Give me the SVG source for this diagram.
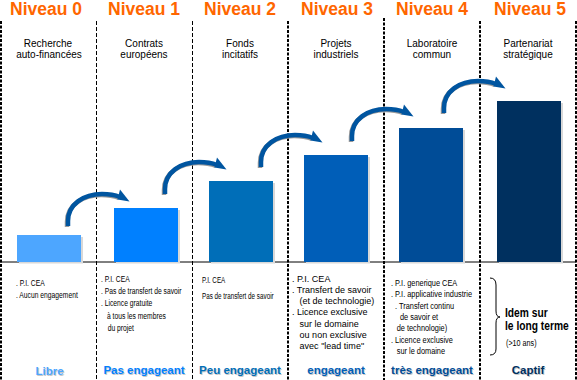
<svg xmlns="http://www.w3.org/2000/svg" xmlns:xlink="http://www.w3.org/1999/xlink" width="577" height="380" viewBox="0 0 577 380">
<style>
.title{font-family:"Liberation Sans",Arial,sans-serif;font-weight:bold;font-size:17.5px;fill:#ff6600;text-anchor:middle}
.sub{font-family:"Liberation Sans",Arial,sans-serif;font-size:10px;fill:#000;text-anchor:middle}
.sm{font-family:"Liberation Sans",Arial,sans-serif;font-size:9px;fill:#000}
.lbl{font-family:"Liberation Sans",Arial,sans-serif;font-weight:bold;font-size:11.5px;text-anchor:middle}
.lsh{fill:#c8c8c8}
.thin{stroke:#000;stroke-width:1;stroke-dasharray:4 2;fill:none}
.dot{stroke:#000;stroke-width:2;stroke-dasharray:3 1.5;fill:none}
.shadow{fill:#d8d8d8}
.arr{fill:none;stroke:#0055a0;stroke-width:4.5}
.arrsh{fill:none;stroke:#9a9a9a;stroke-width:4.5}
.head{fill:#0055a0}
</style>
<defs>
<g id="arrow">
<path class="arrsh" transform="translate(-1,1)" d="M0,0 L0,-5 C0,-22 16,-32 34,-32 C42,-32 47,-31 52,-29"/>
<path class="arr" d="M0,0 L0,-5 C0,-22 16,-32 34,-32 C42,-32 47,-31 52,-29"/>
<polygon class="head" points="52,-36.5 61.5,-24.5 49.5,-26.5"/>
</g>
</defs>
<rect width="577" height="380" fill="#fff"/>
<g id="grid">
<line x1="0" y1="262" x2="576" y2="262" stroke="#000" stroke-width="1"/>
<line class="dot" x1="1" y1="21" x2="1" y2="380"/>
<line class="thin" x1="96.5" y1="21" x2="96.5" y2="380"/>
<line class="thin" x1="192.5" y1="21" x2="192.5" y2="380"/>
<line class="dot" x1="288" y1="21" x2="288" y2="380"/>
<line class="dot" x1="384" y1="18" x2="384" y2="380"/>
<line class="dot" x1="480" y1="21" x2="480" y2="380"/>
<line class="dot" x1="576" y1="21" x2="576" y2="380"/>
</g>
<g id="niveau0">
<text class="title" x="46" y="15">Niveau 0</text>
<text class="sub" x="48" y="46.5">Recherche</text>
<text class="sub" x="49" y="58">auto-financées</text>
<rect class="shadow" x="19" y="237" width="64" height="26.5"/>
<rect x="17" y="235" width="64" height="27" fill="#4da6ff"/>
<g transform="translate(16,0) scale(0.75,1)">
<text class="sm" x="0" y="286">. P.I. CEA</text>
<text class="sm" x="0" y="298">. Aucun engagement</text>
</g>
<text class="lbl lsh" x="50.5" y="376">Libre</text>
<text class="lbl" x="49.5" y="375" fill="#4da6ff">Libre</text>
</g>
<g id="niveau1">
<text class="title" x="144" y="15">Niveau 1</text>
<text class="sub" x="144" y="46.5">Contrats</text>
<text class="sub" x="144" y="58">européens</text>
<rect class="shadow" x="116" y="210" width="64" height="53.5"/>
<rect x="114" y="208" width="64" height="54" fill="#0080ff"/>
<g transform="translate(101,0) scale(0.75,1)">
<text class="sm" x="0" y="282">. P.I. CEA</text>
<text class="sm" x="0" y="294">. Pas de transfert de savoir</text>
<text class="sm" x="0" y="306.5">. Licence gratuite</text>
<text class="sm" x="8" y="319">à tous les membres</text>
<text class="sm" x="9" y="331">du projet</text>
</g>
<text class="lbl lsh" x="145" y="375">Pas engageant</text>
<text class="lbl" x="144" y="374" fill="#0080ff">Pas engageant</text>
</g>
<g id="niveau2">
<text class="title" x="240" y="15">Niveau 2</text>
<text class="sub" x="240" y="46.5">Fonds</text>
<text class="sub" x="240" y="58">incitatifs</text>
<rect class="shadow" x="211" y="183" width="64" height="80.5"/>
<rect x="209" y="181" width="64" height="81" fill="#006eb8"/>
<g transform="translate(202,0) scale(0.7,1)">
<text class="sm" x="0" y="283">P.I. CEA</text>
<text class="sm" x="0" y="299">Pas de transfert de savoir</text>
</g>
<text class="lbl lsh" x="241" y="375">Peu engageant</text>
<text class="lbl" x="240" y="374" fill="#006eb8">Peu engageant</text>
</g>
<g id="niveau3">
<text class="title" x="337" y="15">Niveau 3</text>
<text class="sub" x="336" y="46.5">Projets</text>
<text class="sub" x="336" y="58">industriels</text>
<rect class="shadow" x="306" y="157" width="64" height="106.5"/>
<rect x="304" y="155" width="64" height="107" fill="#005eb8"/>
<g transform="translate(292,0) scale(0.95,1)">
<text class="sm" x="0" y="282" style="font-size:9.5px">. P.I. CEA</text>
<text class="sm" x="0" y="293" style="font-size:9.5px">. Transfert de savoir</text>
<text class="sm" x="8" y="304" style="font-size:9.5px">(et de technologie)</text>
<text class="sm" x="0" y="315.5" style="font-size:9.5px">. Licence exclusive</text>
<text class="sm" x="8" y="327" style="font-size:9.5px">sur le domaine</text>
<text class="sm" x="8" y="338.5" style="font-size:9.5px">ou non exclusive</text>
<text class="sm" x="8" y="349.5" style="font-size:9.5px">avec "lead time"</text>
</g>
<text class="lbl lsh" x="337" y="375">engageant</text>
<text class="lbl" x="336" y="374" fill="#005eb8">engageant</text>
</g>
<g id="niveau4">
<text class="title" x="432" y="15">Niveau 4</text>
<text class="sub" x="432" y="46.5">Laboratoire</text>
<text class="sub" x="432" y="58">commun</text>
<rect class="shadow" x="401" y="130" width="64" height="133.5"/>
<rect x="399" y="128" width="64" height="134" fill="#004c97"/>
<g transform="translate(391,0) scale(0.82,1)">
<text class="sm" x="0" y="286">. P.I. generique CEA</text>
<text class="sm" x="0" y="297.5">. P.I. applicative industrie</text>
<text class="sm" x="5" y="309.5">.  Transfert continu</text>
<text class="sm" x="11" y="320.5">de savoir et</text>
<text class="sm" x="7" y="331.5">de technologie)</text>
<text class="sm" x="0" y="343">. Licence exclusive</text>
<text class="sm" x="7" y="354.5">sur le domaine</text>
</g>
<text class="lbl lsh" x="433" y="375">très engageant</text>
<text class="lbl" x="432" y="374" fill="#004c97">très engageant</text>
</g>
<g id="niveau5">
<text class="title" x="530" y="15">Niveau 5</text>
<text class="sub" x="528" y="46.5">Partenariat</text>
<text class="sub" x="528" y="58">stratégique</text>
<rect class="shadow" x="499" y="103" width="64" height="160.5"/>
<rect x="497" y="101" width="64" height="161" fill="#00305f"/>
<path d="M490,278 Q496,278 496,285 L496,311 Q496,317 500,317 Q496,317 496,323 L496,349 Q496,355 490,355" fill="none" stroke="#000" stroke-width="1"/>
<g transform="translate(505,0) scale(0.82,1)" style="font-family:'Liberation Sans',Arial,sans-serif;font-weight:bold;font-size:12.5px;fill:#000">
<text x="0" y="317">Idem sur</text>
<text x="0" y="330.5">le long terme</text>
</g>
<g transform="translate(506,0) scale(0.8,1)">
<text class="sm" x="0" y="346.5">(&gt;10 ans)</text>
</g>
<text class="lbl lsh" x="529" y="375">Captif</text>
<text class="lbl" x="528" y="374" fill="#00305f">Captif</text>
</g>
<g id="connectors">
<use xlink:href="#arrow" transform="translate(68,226)"/>
<use xlink:href="#arrow" transform="translate(165,194)"/>
<use xlink:href="#arrow" transform="translate(261,167)"/>
<use xlink:href="#arrow" transform="translate(352,141)"/>
<use xlink:href="#arrow" transform="translate(444,113)"/>
</g>
</svg>
